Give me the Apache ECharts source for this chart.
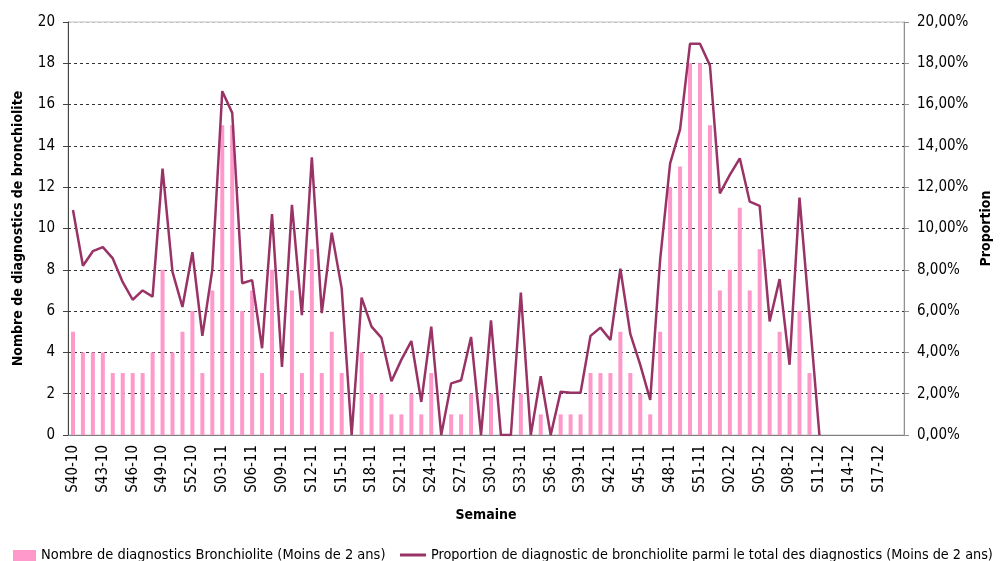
<!DOCTYPE html>
<html lang="fr">
<head>
<meta charset="UTF-8">
<title>Bronchiolite</title>
<script src="https://cdn.jsdelivr.net/npm/echarts@6/dist/echarts.min.js"></script>
<style>
  html, body { margin: 0; padding: 0; background: #fff; }
  #chart { width: 1003px; height: 561px; }
</style>
</head>
<body>
<div id="chart"></div>
<script>
// semaines (S40-10 .. S19-12)
var semaines = [
  'S40-10','S41-10','S42-10','S43-10','S44-10','S45-10','S46-10','S47-10','S48-10','S49-10','S50-10','S51-10','S52-10',
  'S01-11','S02-11','S03-11','S04-11','S05-11','S06-11','S07-11','S08-11','S09-11','S10-11','S11-11','S12-11','S13-11',
  'S14-11','S15-11','S16-11','S17-11','S18-11','S19-11','S20-11','S21-11','S22-11','S23-11','S24-11','S25-11','S26-11',
  'S27-11','S28-11','S29-11','S30-11','S31-11','S32-11','S33-11','S34-11','S35-11','S36-11','S37-11','S38-11','S39-11',
  'S40-11','S41-11','S42-11','S43-11','S44-11','S45-11','S46-11','S47-11','S48-11','S49-11','S50-11','S51-11','S52-11',
  'S01-12','S02-12','S03-12','S04-12','S05-12','S06-12','S07-12','S08-12','S09-12','S10-12','S11-12','S12-12','S13-12',
  'S14-12','S15-12','S16-12','S17-12','S18-12','S19-12'
];

// nombre de diagnostics (barres)
var nbDiagnostics = [
  5,4,4,4,3,3,3,3,4,8,4,5,6,
  3,7,15,15,6,7,3,8,2,7,3,9,3,
  5,3,0,4,2,2,1,1,2,1,3,0,1,
  1,2,0,2,0,0,2,0,1,0,1,1,1,
  3,3,3,5,3,2,1,5,12,13,18,18,15,
  7,8,11,7,9,4,5,2,6,3,0,0,0,
  0,0,0,0,0,0
];

// proportion en % (ligne)
var proportion = [
  10.9,8.2,8.9,9.1,8.55,7.4,6.55,7.0,6.7,12.9,7.9,6.2,8.85,
  4.8,8.0,16.65,15.6,7.35,7.5,4.2,10.7,3.3,11.15,5.8,13.45,5.9,
  9.8,7.1,0,6.65,5.25,4.7,2.6,3.65,4.55,1.6,5.25,0,2.5,
  2.65,4.75,0,5.55,0,0,6.9,0,2.85,0,2.1,2.05,2.05,
  4.8,5.2,4.6,8.05,4.9,3.4,1.7,8.5,13.15,14.8,18.95,18.95,17.9,
  11.7,12.6,13.4,11.3,11.1,5.5,7.55,3.4,11.5,5.8,0,null,null,
  null,null,null,null,null,null
];

var nomBarres = 'Nombre de diagnostics Bronchiolite (Moins de 2 ans)';
var nomLigne = 'Proportion de diagnostic de bronchiolite parmi le total des diagnostics (Moins de 2 ans)';

var police = "'DejaVu Sans Condensed', 'DejaVu Sans', sans-serif";
// couleur des pointillés, la ligne du haut reste grise
var couleursGrille = ['#333','#333','#333','#333','#333','#333','#333','#333','#333','#333','#c0c0c0'];

var chart = echarts.init(document.getElementById('chart'));
chart.setOption({
  animation: false,
  textStyle: { fontFamily: police },
  grid: {
    left: 68, right: 99, top: 22, bottom: 126,
    show: true, borderColor: '#c0c0c0', borderWidth: 1
  },
  legend: [
    {
      left: 8, top: 543,
      itemWidth: 23, itemHeight: 11,
      textStyle: { fontFamily: police, fontSize: 14.5, color: '#000' },
      data: [{ name: nomBarres, icon: 'rect' }]
    },
    {
      left: 395, top: 543,
      itemWidth: 26, itemHeight: 3,
      textStyle: { fontFamily: police, fontSize: 14.3, color: '#000' },
      data: [{ name: nomLigne, icon: 'rect' }]
    }
  ],
  xAxis: {
    type: 'category',
    data: semaines,
    name: 'Semaine',
    nameLocation: 'middle',
    nameGap: 73,
    nameTextStyle: { fontFamily: police, fontSize: 14, fontWeight: 'bold', color: '#000' },
    axisLine: { lineStyle: { color: '#808080', width: 1 } },
    axisTick: { interval: 0, length: 5, lineStyle: { color: '#333' } },
    axisLabel: { interval: 2, rotate: 90, margin: 10, fontSize: 15, color: '#000', fontFamily: police }
  },
  yAxis: [
    {
      type: 'value', min: 0, max: 20, interval: 2,
      name: 'Nombre de diagnostics de bronchiolite',
      nameLocation: 'middle',
      nameGap: 43,
      nameTextStyle: { fontFamily: police, fontSize: 14, fontWeight: 'bold', color: '#000' },
      axisLine: { show: true, lineStyle: { color: '#444' } },
      axisTick: { show: true, length: 5, lineStyle: { color: '#444' } },
      axisLabel: { fontSize: 15, color: '#000', margin: 13, fontFamily: police },
      splitLine: { show: true, lineStyle: { color: couleursGrille, type: [3, 3], width: 1 } }
    },
    {
      type: 'value', min: 0, max: 20, interval: 2,
      position: 'right',
      name: 'Proportion',
      nameLocation: 'middle',
      nameGap: 74,
      nameTextStyle: { fontFamily: police, fontSize: 14, fontWeight: 'bold', color: '#000' },
      axisLine: { show: true, lineStyle: { color: '#909090' } },
      axisTick: { show: true, length: 5, lineStyle: { color: '#909090' } },
      axisLabel: {
        fontSize: 15, color: '#000', margin: 13, fontFamily: police,
        formatter: function (v) { return v.toFixed(2).replace('.', ',') + '%'; }
      },
      splitLine: { show: false }
    }
  ],
  series: [
    {
      name: nomBarres,
      type: 'bar',
      data: nbDiagnostics,
      barWidth: 4,
      itemStyle: { color: '#ff99cc' }
    },
    {
      name: nomLigne,
      type: 'line',
      yAxisIndex: 1,
      data: proportion,
      symbol: 'none',
      connectNulls: false,
      lineStyle: { color: '#993366', width: 2.5 },
      itemStyle: { color: '#993366' }
    }
  ]
});
</script>
</body>
</html>
